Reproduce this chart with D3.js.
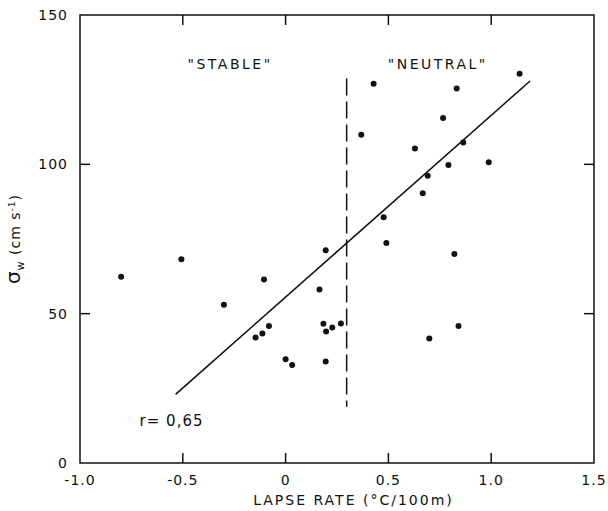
<!DOCTYPE html>
<html>
<head>
<meta charset="utf-8">
<script src="https://cdn.jsdelivr.net/npm/d3@7"></script>
<style>
  body { margin: 0; background: #fff; }
  text { font-family: "DejaVu Sans", sans-serif; fill: #111; }
</style>
</head>
<body>
<div id="chart"></div>
<script>
// lapse rate (degC/100m) and sigma_w (cm/s)
const lapseRate = [-0.80, -0.507, -0.30, -0.105, -0.146, -0.113, -0.081, 0.0, 0.032, 0.165,
  0.195, 0.184, 0.197, 0.227, 0.269, 0.195, 0.368, 0.428, 0.477, 0.490,
  0.629, 0.667, 0.691, 0.699, 0.766, 0.792, 0.821, 0.832, 0.841, 0.864, 0.988, 1.138];
const sigmaW = [62.4, 68.2, 53.0, 61.4, 42.0, 43.4, 45.9, 34.7, 32.8, 58.1,
  71.2, 46.6, 44.0, 45.4, 46.7, 34.0, 109.9, 127.0, 82.3, 73.7,
  105.3, 90.3, 96.2, 41.7, 115.5, 99.8, 70.0, 125.4, 45.9, 107.3, 100.7, 130.3];

// regression line end points
const fitX = [-0.535, 1.189];
const fitY = [23.0, 127.9];

// dashed divider between regimes
const dividerX = 0.297;
const dividerY = [18.8, 128.7];

const xTicks = [-1.0, -0.5, 0, 0.5, 1.0, 1.5];
const xTickLabels = ["-1.0", "-0.5", "0", "0.5", "1.0", "1.5"];
const yTicks = [0, 50, 100, 150];

const svgWidth = 608, svgHeight = 511;
const margin = { top: 15, right: 14, bottom: 48, left: 80 };
const width = svgWidth - margin.left - margin.right;
const height = svgHeight - margin.top - margin.bottom;

const svg = d3.select("#chart").append("svg")
  .attr("width", svgWidth)
  .attr("height", svgHeight);

const g = svg.append("g")
  .attr("transform", `translate(${margin.left}, ${margin.top})`);

const x = d3.scaleLinear().domain([-1.0, 1.5]).range([0, width]);
const y = d3.scaleLinear().domain([0, 150]).range([height, 0]);

// frame
g.append("rect")
  .attr("width", width).attr("height", height)
  .attr("fill", "none").attr("stroke", "#111").attr("stroke-width", 1.5);

// inner ticks, bottom and top
const innerX = xTicks.slice(1, -1);
g.selectAll(".xt-b").data(innerX).enter().append("line")
  .attr("x1", d => x(d)).attr("x2", d => x(d))
  .attr("y1", height).attr("y2", height - 10)
  .attr("stroke", "#111").attr("stroke-width", 1.5);
g.selectAll(".xt-t").data(innerX).enter().append("line")
  .attr("x1", d => x(d)).attr("x2", d => x(d))
  .attr("y1", 0).attr("y2", 10)
  .attr("stroke", "#111").attr("stroke-width", 1.5);

// inner ticks, left and right
const innerY = yTicks.slice(1, -1);
g.selectAll(".yt-l").data(innerY).enter().append("line")
  .attr("x1", 0).attr("x2", 10)
  .attr("y1", d => y(d)).attr("y2", d => y(d))
  .attr("stroke", "#111").attr("stroke-width", 1.5);
g.selectAll(".yt-r").data(innerY).enter().append("line")
  .attr("x1", width).attr("x2", width - 10)
  .attr("y1", d => y(d)).attr("y2", d => y(d))
  .attr("stroke", "#111").attr("stroke-width", 1.5);

// tick labels
g.selectAll(".xl").data(xTicks).enter().append("text")
  .attr("x", d => x(d))
  .attr("y", height + 22)
  .attr("text-anchor", "middle")
  .attr("font-size", 14)
  .attr("letter-spacing", 1)
  .text((d, i) => xTickLabels[i]);

g.selectAll(".yl").data(yTicks).enter().append("text")
  .attr("x", -12)
  .attr("y", d => y(d) + 5)
  .attr("text-anchor", "end")
  .attr("font-size", 14)
  .attr("letter-spacing", 1)
  .text(d => d);

// axis titles
g.append("text")
  .attr("x", x(0.33))
  .attr("y", height + 42)
  .attr("text-anchor", "middle")
  .attr("font-size", 14)
  .attr("letter-spacing", 2)
  .text("LAPSE RATE (°C/100m)");

const yTitle = g.append("text")
  .attr("transform", `translate(-60, ${y(75)}) rotate(-90)`)
  .attr("text-anchor", "middle")
  .attr("font-size", 14)
  .attr("letter-spacing", 1);
yTitle.append("tspan").attr("font-size", 20).text("σ");
yTitle.append("tspan").attr("font-size", 11).attr("dy", 4).text("w");
yTitle.append("tspan").attr("dy", -4).text(" (cm s");
yTitle.append("tspan").attr("font-size", 9).attr("dy", -5).text("-1");
yTitle.append("tspan").attr("dy", 5).text(")");

// regime labels
g.append("text")
  .attr("x", x(-0.27)).attr("y", y(132))
  .attr("text-anchor", "middle").attr("font-size", 14).attr("letter-spacing", 2.5)
  .text("\"STABLE\"");
g.append("text")
  .attr("x", x(0.74)).attr("y", y(132))
  .attr("text-anchor", "middle").attr("font-size", 14).attr("letter-spacing", 2.5)
  .text("\"NEUTRAL\"");

// dashed divider
g.append("line")
  .attr("x1", x(dividerX)).attr("x2", x(dividerX))
  .attr("y1", y(dividerY[1])).attr("y2", y(dividerY[0]))
  .attr("stroke", "#111").attr("stroke-width", 1.5)
  .attr("stroke-dasharray", "17,6");

// regression line
g.append("line")
  .attr("x1", x(fitX[0])).attr("y1", y(fitY[0]))
  .attr("x2", x(fitX[1])).attr("y2", y(fitY[1]))
  .attr("stroke", "#111").attr("stroke-width", 1.6);

// points
const points = lapseRate.map((d, i) => ({ lapse: d, sigma: sigmaW[i] }));
g.selectAll("circle").data(points).enter().append("circle")
  .attr("cx", d => x(d.lapse))
  .attr("cy", d => y(d.sigma))
  .attr("r", 3)
  .attr("fill", "#111");

// correlation
g.append("text")
  .attr("x", x(-0.71)).attr("y", y(12.5))
  .attr("font-size", 15)
  .attr("letter-spacing", 1)
  .text("r= 0,65");
</script>
</body>
</html>
